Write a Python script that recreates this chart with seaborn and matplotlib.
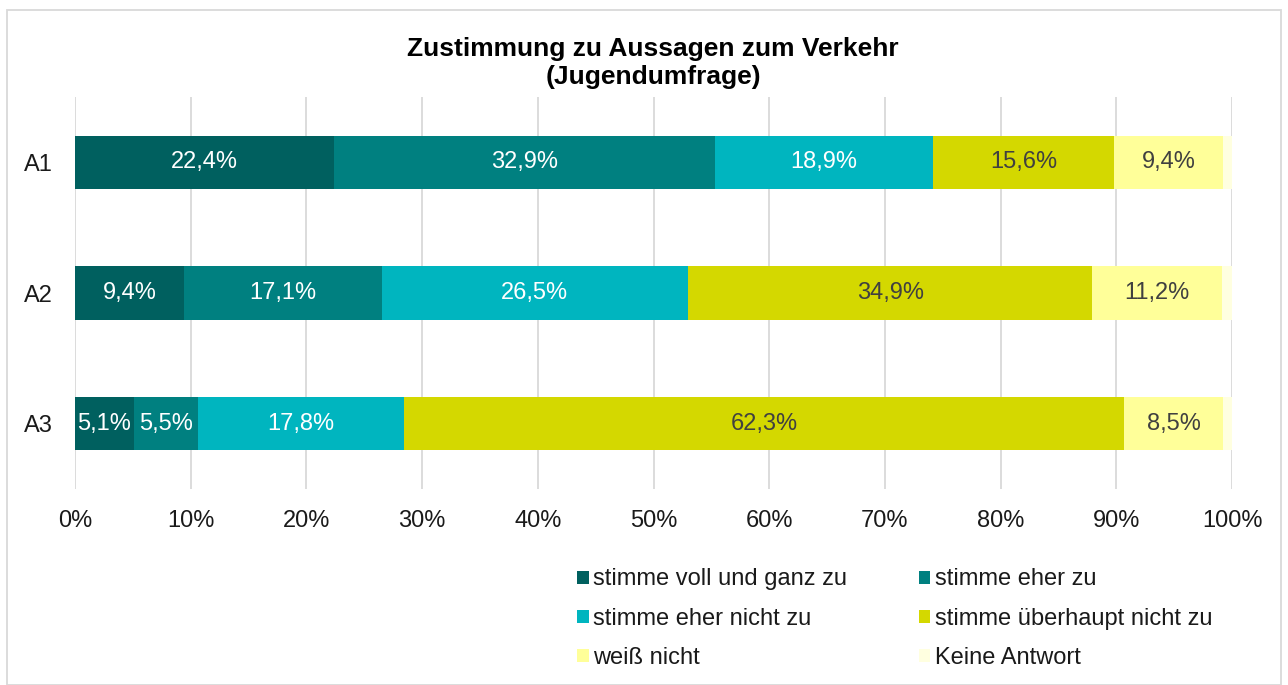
import numpy as np
import pandas as pd
import matplotlib
matplotlib.use("Agg")
import matplotlib.pyplot as plt
import seaborn as sns
from matplotlib.patches import Patch, Rectangle

categories = ["A1", "A2", "A3"]
series_names = ["stimme voll und ganz zu", "stimme eher zu", "stimme eher nicht zu",
                "stimme überhaupt nicht zu", "weiß nicht", "Keine Antwort"]
voll = [22.4, 9.4, 5.1]
eher = [32.9, 17.1, 5.5]
eher_nicht = [18.9, 26.5, 17.8]
ueberhaupt_nicht = [15.6, 34.9, 62.3]
weiss_nicht = [9.4, 11.2, 8.5]
keine = [0.8, 0.9, 0.8]
x_ticks = [0, 10, 20, 30, 40, 50, 60, 70, 80, 90, 100]

colors = ["#00605F", "#008080", "#00B5BF", "#D4D800", "#FFFF99", "#FFFFE0"]
label_colors = ["white", "white", "white", "#404040", "#404040", None]

values = [voll, eher, eher_nicht, ueberhaupt_nicht, weiss_nicht, keine]

sns.set_theme(style="white")
plt.rcParams['font.family'] = ['Liberation Sans', 'DejaVu Sans']

FS = 17

fig = plt.figure(figsize=(12.88, 6.85), dpi=100)
ax = fig.add_axes([75/1288, 1-489/685, (1232-75)/1288, (489-97)/685])

df = pd.DataFrame({name: v for name, v in zip(series_names, values)}, index=categories)
cum = df.cumsum(axis=1)

# draw cumulative bars from last to first so earlier segments overlay
for i in range(len(series_names) - 1, -1, -1):
    d = pd.DataFrame({"cat": categories, "val": cum.iloc[:, i].values})
    sns.barplot(data=d, x="val", y="cat", orient="h", color=colors[i],
                width=0.41, ax=ax, saturation=1, linewidth=0, zorder=3)

for i, name in enumerate(series_names):
    if label_colors[i] is None:
        continue
    for j, cat in enumerate(categories):
        v = df.iloc[j, i]
        start = cum.iloc[j, i] - v
        ax.text(start + v / 2, j, f"{v:.1f}%".replace(".", ","), ha="center", va="center",
                color=label_colors[i], fontsize=FS, zorder=5)

ax.set_xlim(0, 100)
ax.set_ylim(2.5, -0.5)
ax.set_xticks(x_ticks)
ax.set_xticklabels([f"{t}%" for t in x_ticks], fontsize=FS, color="#1A1A1A")
ax.tick_params(axis="x", length=0, pad=15)
ax.tick_params(axis="y", length=0, pad=16, labelsize=FS, labelcolor="#1A1A1A")
ax.set_xlabel("")
ax.set_ylabel("")
ax.grid(axis="x", color="#D9D9D9", linewidth=1.3, zorder=0)
ax.grid(axis="y", visible=False)
for s in ax.spines.values():
    s.set_visible(False)
ax.set_axisbelow(True)

fig.text(653/1288, 1-63/685, "Zustimmung zu Aussagen zum Verkehr\n(Jugendumfrage)",
         ha="center", va="center", fontsize=19, fontweight="bold", linespacing=1.22,
         color="black")

handles = [Patch(facecolor=c, edgecolor="none", label=n) for c, n in zip(colors, series_names)]
order = [0, 2, 4, 1, 3, 5]
fig.legend([handles[k] for k in order], [series_names[k] for k in order], ncol=2,
           loc="upper left", bbox_to_anchor=(568/1288, 1-559/685), frameon=False,
           fontsize=FS, handlelength=0.47, handleheight=0.47, handletextpad=0.2,
           columnspacing=3.03, labelspacing=0.73, borderaxespad=0, labelcolor="#1A1A1A")

fig.patches.append(Rectangle((7/1288, 0), 1274/1288, 1-10/685, transform=fig.transFigure,
                             fill=False, edgecolor="#D9D9D9", linewidth=1.3))

fig.savefig("out.png", dpi=100)
